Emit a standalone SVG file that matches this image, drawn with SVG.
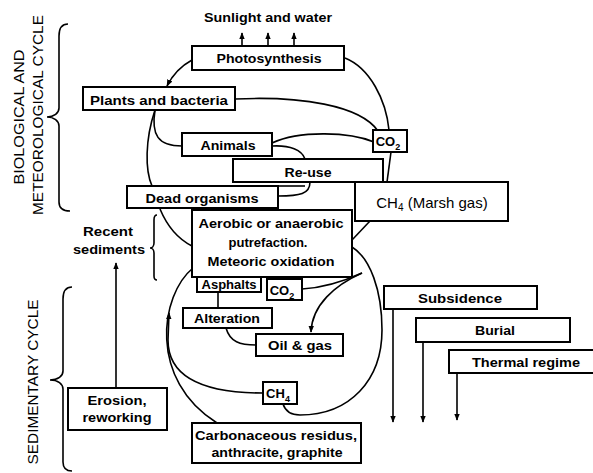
<svg xmlns="http://www.w3.org/2000/svg" width="593" height="473" viewBox="0 0 593 473">
<style>
.box{fill:#fff;stroke:#000;stroke-width:2}
.t{font-family:"Liberation Sans",Arial,sans-serif;font-weight:bold;font-size:13px;fill:#000;text-anchor:middle}
.v{font-family:"Liberation Sans",Arial,sans-serif;font-weight:normal;font-size:14px;fill:#000;text-anchor:middle}
.r{font-family:"Liberation Sans",Arial,sans-serif;font-size:15px;fill:#000;text-anchor:middle}
.c{fill:none;stroke:#000;stroke-width:1.6}
</style>
<defs>
<marker id="ah" viewBox="0 0 10 10" refX="9" refY="5" markerWidth="7" markerHeight="7" orient="auto" markerUnits="userSpaceOnUse"><path d="M0,1 L10,5 L0,9 z" fill="#000"/></marker>
</defs>
<rect width="593" height="473" fill="#fff"/>

<g id="connectors">
<path class="c" d="M192,60 C181,66 172,76 167,86" marker-end="url(#ah)"/>
<path class="c" d="M345,58 C370,68 386,100 389,130"/>
<path class="c" d="M235,99 C300,96 360,105 378,131"/>
<path class="c" d="M155,110 C151,135 158,146 182,146"/>
<path class="c" d="M155,110 C145,140 145,170 152,186"/>
<path class="c" d="M272,143 C300,130 350,132 374,142"/>
<path class="c" d="M272,146 C290,145 302,150 305,159"/>
<path class="c" d="M391,152 L387,182"/>
<path class="c" d="M310,182 C310,194 300,196 278,196"/>
<path class="c" d="M278,186 L305,186"/>
<path class="c" d="M160,209 C168,228 180,240 192,246"/>
<path class="c" d="M370,221 L352,240"/>
<path class="c" d="M193,268 C160,295 148,380 217,423"/>
<path class="c" d="M263,393 C195,393 168,372 168,340 L169,313" marker-end="url(#ah)"/>
<path class="c" d="M352,247 C370,258 382,290 382,330 C382,380 350,415 300,415 C290,415 285,410 283,404"/>
<path class="c" d="M302,289 C320,288 340,283 362,273"/>
<path class="c" d="M362,273 C335,285 312,305 311,332" marker-end="url(#ah)"/>
<path class="c" d="M218,292 L218,308"/>
<path class="c" d="M226,328 C230,342 240,345 256,345"/>
<path class="c" d="M116,388 L116,263" marker-end="url(#ah)"/>
<path class="c" d="M242,45 L242,33" marker-end="url(#ah)"/>
<path class="c" d="M268,45 L268,33" marker-end="url(#ah)"/>
<path class="c" d="M294,45 L294,33" marker-end="url(#ah)"/>
<path class="c" d="M393,309 L393,422" marker-end="url(#ah)"/>
<path class="c" d="M423,342 L423,422" marker-end="url(#ah)"/>
<path class="c" d="M457,373 L457,420" marker-end="url(#ah)"/>
<path class="c" d="M68,24 C62,24 59,28 59,36 L59,108 C59,113 54,117 47,117 C54,117 59,121 59,126 L59,202 C59,208 62,211 70,211"/>
<path class="c" d="M72,287 C66,287 63,291 63,299 L63,371 C63,376 58,380 50,380 C58,380 63,384 63,389 L63,462 C63,468 66,471 72,471"/>
<path class="c" d="M157,215 C155,215 154,217 154,220 L154,243 C154,246 152,248 150,248 C152,248 154,250 154,253 L154,276 C154,279 155,280 157,280"/>
</g>

<g id="labels">
<text class="t" x="268" y="22" font-size="12" textLength="128" lengthAdjust="spacingAndGlyphs">Sunlight and water</text>
<text class="v" transform="translate(24,117) rotate(-90)" textLength="135" lengthAdjust="spacingAndGlyphs">BIOLOGICAL AND</text>
<text class="v" transform="translate(43,115) rotate(-90)" textLength="200" lengthAdjust="spacingAndGlyphs">METEOROLOGICAL CYCLE</text>
<text class="v" transform="translate(38,382) rotate(-90)" textLength="165" lengthAdjust="spacingAndGlyphs">SEDIMENTARY CYCLE</text>
<text class="t" x="108" y="236" textLength="50" lengthAdjust="spacingAndGlyphs">Recent</text>
<text class="t" x="109" y="254" textLength="72" lengthAdjust="spacingAndGlyphs">sediments</text>
</g>

<g id="photosynthesis"><rect class="box" x="192" y="46" width="152" height="24"/><text class="t" x="269" y="63" textLength="105" lengthAdjust="spacingAndGlyphs">Photosynthesis</text></g>
<g id="plants"><rect class="box" x="83" y="87" width="152" height="23"/><text class="t" x="159" y="105" textLength="138" lengthAdjust="spacingAndGlyphs">Plants and bacteria</text></g>
<g id="animals"><rect class="box" x="182" y="133" width="90" height="23"/><text class="t" x="228" y="150" textLength="55" lengthAdjust="spacingAndGlyphs">Animals</text></g>
<g id="co2-top"><rect class="box" x="373" y="130" width="34" height="22"/><text class="t" x="388" y="146" font-size="14">CO<tspan font-size="9" dy="4">2</tspan></text></g>
<g id="reuse"><rect class="box" x="233" y="159" width="150" height="23"/><text class="t" x="308" y="177" textLength="47" lengthAdjust="spacingAndGlyphs">Re-use</text></g>
<g id="ch4-marsh"><rect class="box" x="355" y="182" width="153" height="39"/><text class="r" x="432" y="208">CH<tspan font-size="10" dy="3">4</tspan><tspan dy="-3"> (Marsh gas)</tspan></text></g>
<g id="dead"><rect class="box" x="127" y="186" width="151" height="22"/><text class="t" x="202" y="203" textLength="113" lengthAdjust="spacingAndGlyphs">Dead organisms</text></g>
<g id="aerobic"><rect class="box" x="192" y="210" width="160" height="67"/>
<text class="t" x="271" y="228" textLength="145" lengthAdjust="spacingAndGlyphs">Aerobic or anaerobic</text>
<text class="t" x="268" y="247" textLength="79" lengthAdjust="spacingAndGlyphs">putrefaction.</text>
<text class="t" x="271" y="266" textLength="127" lengthAdjust="spacingAndGlyphs">Meteoric oxidation</text></g>
<g id="asphalts"><rect class="box" x="197" y="277" width="64" height="15"/><text class="t" x="229" y="289" font-size="11" textLength="55" lengthAdjust="spacingAndGlyphs">Asphalts</text></g>
<g id="co2-low"><rect class="box" x="267" y="279" width="35" height="21"/><text class="t" x="282" y="295" font-size="14">CO<tspan font-size="9" dy="4">2</tspan></text></g>
<g id="alteration"><rect class="box" x="183" y="308" width="89" height="20"/><text class="t" x="227" y="323" textLength="66" lengthAdjust="spacingAndGlyphs">Alteration</text></g>
<g id="oilgas"><rect class="box" x="256" y="334" width="87" height="22"/><text class="t" x="300" y="350" textLength="64" lengthAdjust="spacingAndGlyphs">Oil &amp; gas</text></g>
<g id="ch4-low"><rect class="box" x="263" y="382" width="34" height="22"/><text class="t" x="278" y="398" font-size="14">CH<tspan font-size="9" dy="4">4</tspan></text></g>
<g id="carbonaceous"><rect class="box" x="192" y="423" width="169" height="40"/>
<text class="t" x="276" y="440" textLength="162" lengthAdjust="spacingAndGlyphs">Carbonaceous residus,</text>
<text class="t" x="277" y="457" textLength="131" lengthAdjust="spacingAndGlyphs">anthracite, graphite</text></g>
<g id="erosion"><rect class="box" x="68" y="388" width="99" height="42"/>
<text class="t" x="117" y="405" textLength="59" lengthAdjust="spacingAndGlyphs">Erosion,</text>
<text class="t" x="117" y="422" textLength="69" lengthAdjust="spacingAndGlyphs">reworking</text></g>
<g id="subsidence"><rect class="box" x="384" y="286" width="153" height="23"/><text class="t" x="460" y="303" textLength="84" lengthAdjust="spacingAndGlyphs">Subsidence</text></g>
<g id="burial"><rect class="box" x="416" y="318" width="154" height="24"/><text class="t" x="495" y="335" textLength="40" lengthAdjust="spacingAndGlyphs">Burial</text></g>
<g id="thermal"><rect class="box" x="449" y="350" width="150" height="23"/><text class="t" x="526" y="367" textLength="108" lengthAdjust="spacingAndGlyphs">Thermal regime</text></g>
</svg>
